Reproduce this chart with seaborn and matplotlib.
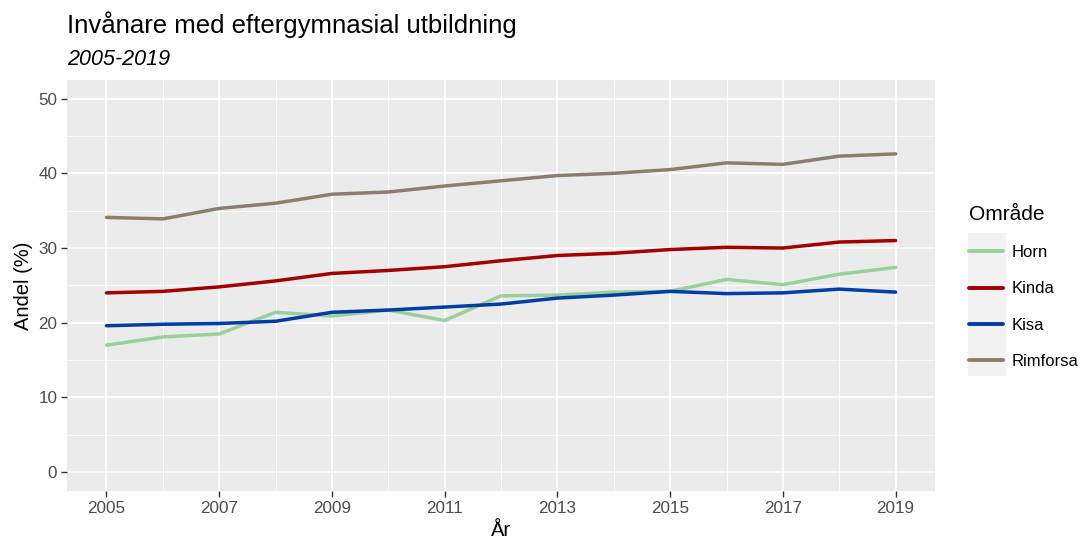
import numpy as np
import pandas as pd
import matplotlib
matplotlib.use("Agg")
import matplotlib.pyplot as plt
from matplotlib.ticker import MultipleLocator
from matplotlib.patches import Rectangle
from matplotlib.lines import Line2D
import seaborn as sns

years = list(range(2005, 2020))
horn = [17.0, 18.1, 18.5, 21.4, 20.9, 21.7, 20.3, 23.6, 23.7, 24.1, 24.2, 25.8, 25.1, 26.5, 27.4]
kinda = [24.0, 24.2, 24.8, 25.6, 26.6, 27.0, 27.5, 28.3, 29.0, 29.3, 29.8, 30.1, 30.0, 30.8, 31.0]
kisa = [19.6, 19.8, 19.9, 20.2, 21.4, 21.7, 22.1, 22.5, 23.3, 23.7, 24.2, 23.9, 24.0, 24.5, 24.1]
rimforsa = [34.1, 33.9, 35.3, 36.0, 37.2, 37.5, 38.3, 39.0, 39.7, 40.0, 40.5, 41.4, 41.2, 42.3, 42.6]

areas = ["Horn", "Kinda", "Kisa", "Rimforsa"]
colors = ["#98d19a", "#a30000", "#003da5", "#8c7f6a"]

df = pd.DataFrame({
    "År": years * 4,
    "Andel": horn + kinda + kisa + rimforsa,
    "Område": np.repeat(areas, len(years)),
})

sns.set_theme(style="darkgrid", rc={
    "axes.facecolor": "#EBEBEB",
    "grid.color": "white",
    "axes.edgecolor": "#EBEBEB",
    "text.color": "black",
})
plt.rcParams["font.family"] = ["Liberation Sans", "DejaVu Sans"]

fig, ax = plt.subplots(figsize=(10.81, 5.4), dpi=100)
fig.subplots_adjust(left=0.062, right=0.865, top=0.852, bottom=0.091)

sns.lineplot(data=df, x="År", y="Andel", hue="Område", hue_order=areas,
             palette=colors, linewidth=2.5, ax=ax, legend=False)

ax.set_xlim(2004.3, 2019.7)
ax.set_ylim(-2.5, 52.5)
ax.set_xticks(range(2005, 2020, 2))
ax.set_yticks(range(0, 51, 10))
ax.xaxis.set_minor_locator(MultipleLocator(1))
ax.yaxis.set_minor_locator(MultipleLocator(5))
ax.grid(which="major", color="white", linewidth=1.2)
ax.grid(which="minor", color="white", linewidth=0.6)
ax.set_axisbelow(True)
for s in ax.spines.values():
    s.set_visible(False)
ax.tick_params(which="major", length=4, width=1, color="#333333",
               labelsize=12.3, labelcolor="#4D4D4D", pad=3, bottom=True, left=True)
ax.tick_params(which="minor", length=0)

ax.set_xlabel("År", fontsize=14.5, color="black", labelpad=4)
ax.set_ylabel("Andel (%)", fontsize=14.5, color="black", labelpad=4)

fig.text(0.062, 1 - 33 / 540, "Invånare med eftergymnasial utbildning",
         fontsize=18.5, va="baseline", ha="left", color="black")
fig.text(0.062, 1 - 65 / 540, "2005-2019", fontsize=15.5, style="italic",
         va="baseline", ha="left", color="black")

# legend key background like ggplot
fig.patches.append(Rectangle((968 / 1081, 1 - 376 / 540), 38 / 1081, 143 / 540,
                             transform=fig.transFigure, facecolor="#F2F2F2",
                             edgecolor="none", zorder=0))
handles = [Line2D([], [], color=c, linewidth=2.8) for c in colors]
leg = fig.legend(handles, areas, title="Område", loc="upper left",
                 bbox_to_anchor=(969 / 1081, 1 - 205 / 540), frameon=False,
                 fontsize=12, title_fontsize=15, handlelength=2.05,
                 handletextpad=0.5, labelspacing=1.27, borderpad=0,
                 borderaxespad=0, alignment="left")

fig.savefig("out.png", dpi=100)
